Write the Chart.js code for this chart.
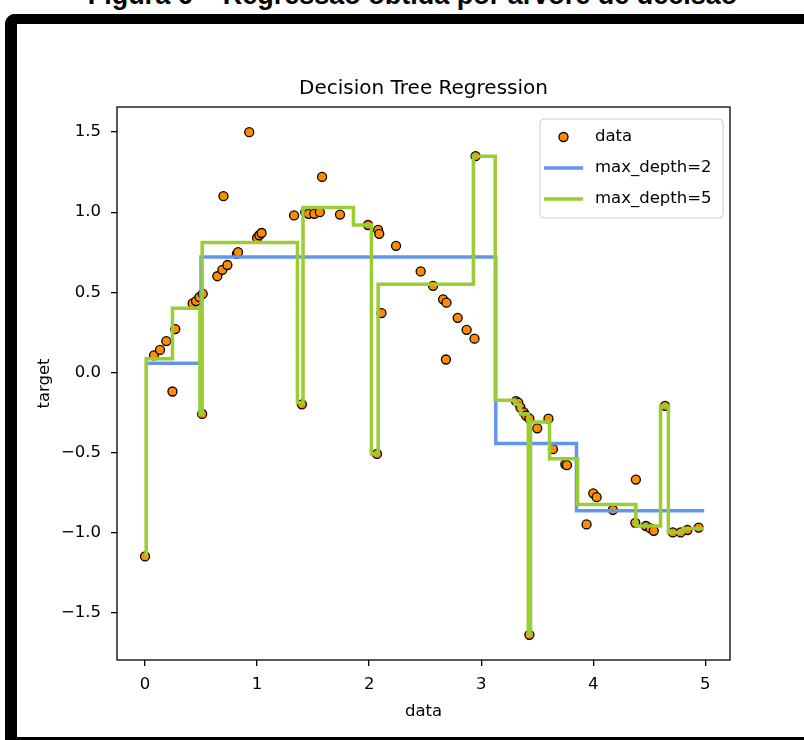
<!DOCTYPE html>
<html>
<head>
<meta charset="utf-8">
<script src="https://cdn.jsdelivr.net/npm/chart.js@4.4.1/dist/chart.umd.min.js"></script>
<style>
  body { margin: 0; background: #fff; }
  #page { position: relative; width: 804px; height: 740px; overflow: hidden; background: #fff; }
  #caption { position: absolute; left: 0; width: 825px; top: -18px; text-align: center;
    font: bold 27px "Liberation Sans", Arial, sans-serif; line-height: 27px; color: #000; white-space: nowrap; }
  #frame { position: absolute; left: 5px; top: 14px; width: 900px; height: 726px; box-sizing: border-box;
    border-left: 12px solid #000; border-top: 10px solid #000; border-bottom: 3px solid #000;
    border-top-left-radius: 10px; }
  #chart { position: absolute; left: 0; top: 0; }
</style>
</head>
<body>
<div id="page">
  <div id="caption">Figura 6 – Regressão obtida por árvore de decisão</div>
  <div id="frame"></div>
  <canvas id="chart" width="804" height="740"></canvas>
</div>
<script>
// scatter points
const dataX = [0.00, 0.08, 0.134, 0.19, 0.245, 0.27, 0.425, 0.455, 0.485, 0.515, 0.51, 0.645, 0.69, 0.70, 0.735,
  0.82, 0.83, 0.93, 1.00, 1.02, 1.04, 1.33, 1.40, 1.43, 1.46, 1.51, 1.56, 1.58, 1.74, 1.99,
  2.07, 2.08, 2.09, 2.11, 2.24, 2.46, 2.57, 2.66, 2.685, 2.69, 2.79, 2.87, 2.94, 2.95,
  3.31, 3.33, 3.35, 3.38, 3.40, 3.43, 3.43, 3.50, 3.60, 3.64, 3.75, 3.765, 3.94, 4.00, 4.03,
  4.175, 4.375, 4.38, 4.47, 4.51, 4.54, 4.64, 4.71, 4.78, 4.84, 4.94];
const dataY = [-1.15, 0.106, 0.14, 0.195, -0.12, 0.27, 0.43, 0.445, 0.47, 0.49, -0.26, 0.60, 0.64, 1.10, 0.67,
  0.74, 0.75, 1.50, 0.84, 0.856, 0.87, 0.98, -0.20, 1.00, 0.99, 0.99, 1.00, 1.22, 0.985, 0.92,
  -0.51, 0.89, 0.865, 0.37, 0.79, 0.63, 0.54, 0.456, 0.08, 0.435, 0.34, 0.265, 0.21, 1.35,
  -0.18, -0.19, -0.22, -0.25, -0.27, -1.64, -0.29, -0.35, -0.29, -0.48, -0.575, -0.58, -0.95, -0.756, -0.78,
  -0.86, -0.94, -0.67, -0.96, -0.975, -0.99, -0.21, -1.00, -1.00, -0.985, -0.97];

// tree predictions: step start x and leaf value
const depth2X = [0.00, 0.50, 3.13, 3.85, 4.99];
const depth2Y = [0.056, 0.72, -0.445, -0.865, -0.865];
const depth5X = [0.00, 0.01, 0.245, 0.49, 0.51, 1.36, 1.41, 1.86, 2.02, 2.08, 2.93, 3.125,
  3.30, 3.35, 3.42, 3.44, 3.61, 3.86, 4.38, 4.60, 4.67, 4.80, 4.99];
const depth5Y = [-1.15, 0.085, 0.40, -0.26, 0.81, -0.19, 1.03, 0.92, -0.51, 0.55, 1.35, -0.175,
  -0.20, -0.26, -1.64, -0.31, -0.54, -0.825, -0.96, -0.21, -1.00, -0.975, -0.975];

const xTicks = [0, 1, 2, 3, 4, 5];
const yTicks = [-1.5, -1.0, -0.5, 0.0, 0.5, 1.0, 1.5];

const pts = (xs, ys) => xs.map((x, i) => ({ x: x, y: ys[i] }));
const fmt = v => (v < 0 ? '\u2212' : '') + Math.abs(v).toFixed(1);

Chart.defaults.font.family = '"DejaVu Sans", sans-serif';
Chart.defaults.color = '#000';

// axes box (matplotlib spines)
const spines = {
  id: 'spines',
  afterDatasetsDraw(chart) {
    const a = chart.chartArea, c = chart.ctx;
    c.save();
    c.strokeStyle = '#000';
    c.lineWidth = 1.3;
    c.strokeRect(a.left, a.top, a.right - a.left, a.bottom - a.top);
    c.restore();
  }
};

// legend drawn inside the axes, upper right
const boxLegend = {
  id: 'boxLegend',
  afterDraw(chart) {
    const c = chart.ctx;
    const ds = chart.data.datasets;
    const order = [2, 0, 1]; // data, max_depth=2, max_depth=5
    const bx = 540, by = 119, bw = 183, bh = 99;
    c.save();
    c.beginPath();
    c.roundRect(bx, by, bw, bh, 4);
    c.fillStyle = 'rgba(255,255,255,0.8)';
    c.fill();
    c.strokeStyle = '#cccccc';
    c.lineWidth = 1;
    c.stroke();
    const rows = [137, 168, 199];
    c.font = '16.5px "DejaVu Sans"';
    c.textBaseline = 'middle';
    order.forEach((k, i) => {
      const d = ds[k], y = rows[i];
      if (d.showLine === false) {
        c.beginPath();
        c.arc(563.5, y, 4.5, 0, Math.PI * 2);
        c.fillStyle = d.backgroundColor;
        c.fill();
        c.strokeStyle = d.borderColor;
        c.lineWidth = 1.3;
        c.stroke();
      } else {
        c.beginPath();
        c.moveTo(544, y);
        c.lineTo(583, y);
        c.strokeStyle = d.borderColor;
        c.lineWidth = 3.5;
        c.stroke();
      }
      c.fillStyle = '#000';
      c.fillText(d.label, 595, y);
    });
    c.restore();
  }
};

new Chart(document.getElementById('chart'), {
  type: 'scatter',
  data: {
    datasets: [
      { label: 'max_depth=2', data: pts(depth2X, depth2Y), showLine: true, stepped: true,
        borderColor: '#6495ED', borderWidth: 3.5, pointRadius: 0, fill: false, order: 1 },
      { label: 'max_depth=5', data: pts(depth5X, depth5Y), showLine: true, stepped: true,
        borderColor: '#9ACD32', borderWidth: 3.5, pointRadius: 0, fill: false, order: 0 },
      { label: 'data', data: pts(dataX, dataY), showLine: false,
        backgroundColor: '#FF8C00', borderColor: '#000', borderWidth: 1.3, pointRadius: 4.5, order: 2 }
    ]
  },
  options: {
    responsive: false,
    animation: false,
    layout: { padding: { left: 0, right: 74, top: 0, bottom: 0 } },
    plugins: {
      legend: { display: false },
      tooltip: { enabled: false },
      title: { display: true, text: 'Decision Tree Regression', fullSize: false,
        font: { size: 20, weight: 'normal' }, padding: { top: 77, bottom: 6 } }
    },
    scales: {
      x: {
        type: 'linear', min: -0.25, max: 5.22,
        afterFit: s => { s.height = 80; },
        afterBuildTicks: s => { s.ticks = xTicks.map(v => ({ value: v })); },
        grid: { drawOnChartArea: false, drawTicks: true, tickLength: 6, color: '#000', lineWidth: 1.3 },
        border: { display: false },
        ticks: { font: { size: 16.5 }, padding: 9, maxRotation: 0, callback: v => String(v) },
        title: { display: true, text: 'data', font: { size: 16.5 }, padding: { top: 0, bottom: 18 } }
      },
      y: {
        type: 'linear', min: -1.797, max: 1.657,
        afterFit: s => { s.width = 117; },
        afterBuildTicks: s => { s.ticks = yTicks.map(v => ({ value: v })); },
        grid: { drawOnChartArea: false, drawTicks: true, tickLength: 6, color: '#000', lineWidth: 1.3 },
        border: { display: false },
        ticks: { font: { size: 16.5 }, padding: 10, callback: v => fmt(v) },
        title: { display: true, text: 'target', font: { size: 16.5 }, padding: { top: 35, bottom: 0 } }
      }
    }
  },
  plugins: [spines, boxLegend]
});
</script>
</body>
</html>
